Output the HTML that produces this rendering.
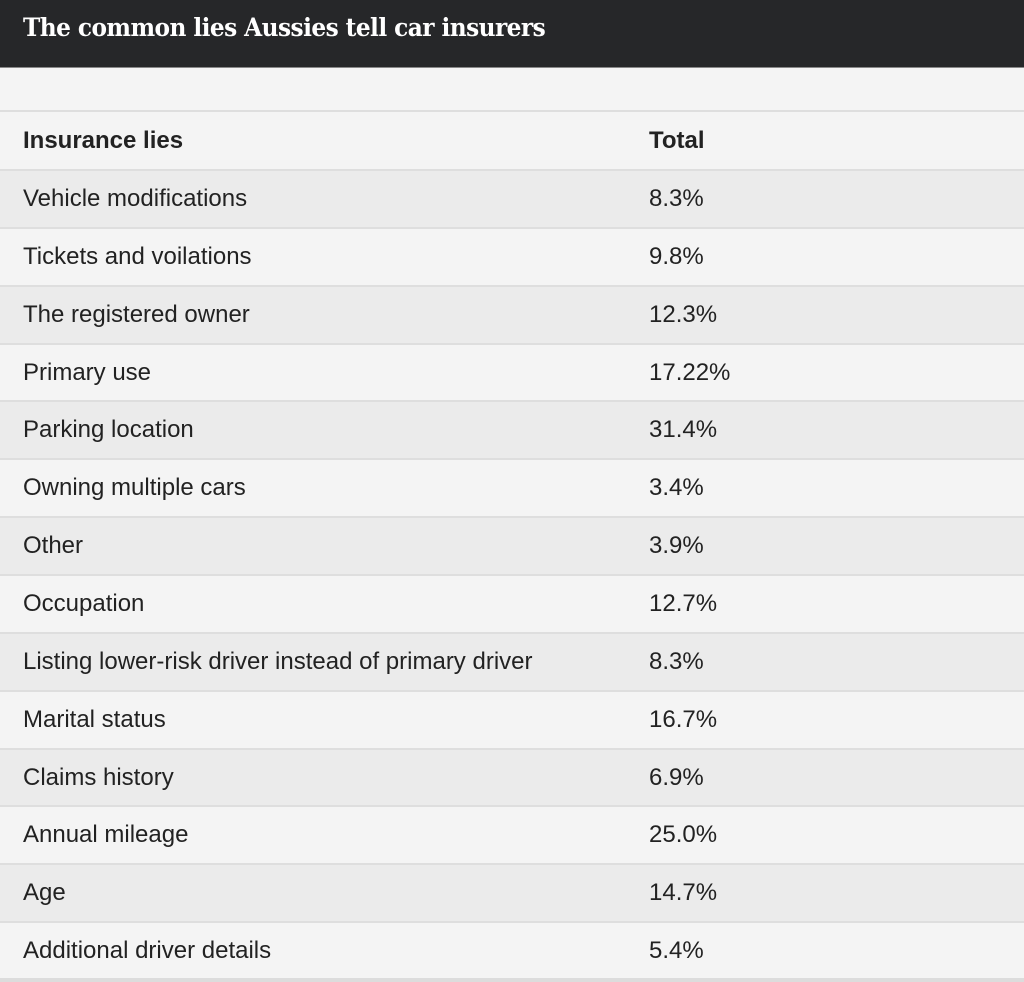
<!DOCTYPE html>
<html><head><meta charset="utf-8"><style>
body{margin:0;width:1024px;height:982px;overflow:hidden;background:#f4f4f4;font-family:"Liberation Sans",Arial,sans-serif;position:relative}
#hdr{position:absolute;left:0;top:0;width:1024px;height:67px;background:#262729;border-bottom:1px solid #888}
#hdr h1{margin:0;position:absolute;left:23px;top:13px;font-family:"DejaVu Serif","Liberation Serif",serif;font-weight:bold;font-size:25px;color:#fff;letter-spacing:-0.6px;transform:scaleX(0.93);transform-origin:left}
.row{position:absolute;left:0;width:1024px;border-top:2px solid #dedede;box-sizing:border-box;font-size:24px;color:#222}
.row span{position:absolute;top:50%;transform:translateY(-50%)}
.c1{left:23px}.c2{left:649px}
.th{font-weight:bold}
</style></head><body>
<div id="hdr"><h1>The common lies Aussies tell car insurers</h1></div>
<div id="tbl"></div>
<script>
const lies=["Vehicle modifications","Tickets and voilations","The registered owner","Primary use","Parking location","Owning multiple cars","Other","Occupation","Listing lower-risk driver instead of primary driver","Marital status","Claims history","Annual mileage","Age","Additional driver details"];
const totals=["8.3%","9.8%","12.3%","17.22%","31.4%","3.4%","3.9%","12.7%","8.3%","16.7%","6.9%","25.0%","14.7%","5.4%"];
const tbl=document.getElementById('tbl');
function mk(top,h,bg,a,b,head){
 const r=document.createElement('div');r.className='row'+(head?' th':'');
 
 
 r.style.top=top+'px';r.style.height=h+'px';r.style.background=bg;
 const s1=document.createElement('span');s1.className='c1';s1.textContent=a;
 
 
 const s2=document.createElement('span');s2.className='c2';s2.textContent=b;
 
 
 r.appendChild(s1);r.appendChild(s2);tbl.appendChild(r);
}
mk(110,59,'#f4f4f4','Insurance lies','Total',true);
const rh=57.85;
lies.forEach((l,i)=>{mk(Math.round(169+i*rh),Math.round(169+(i+1)*rh)-Math.round(169+i*rh),i%2===0?'#ebebeb':'#f4f4f4',l,totals[i],false);});
const end=document.createElement('div');


end.style.cssText='position:absolute;left:0;top:978px;width:1024px;height:4px;background:#dcdcdc';
tbl.appendChild(end);
</script>
</body></html>
